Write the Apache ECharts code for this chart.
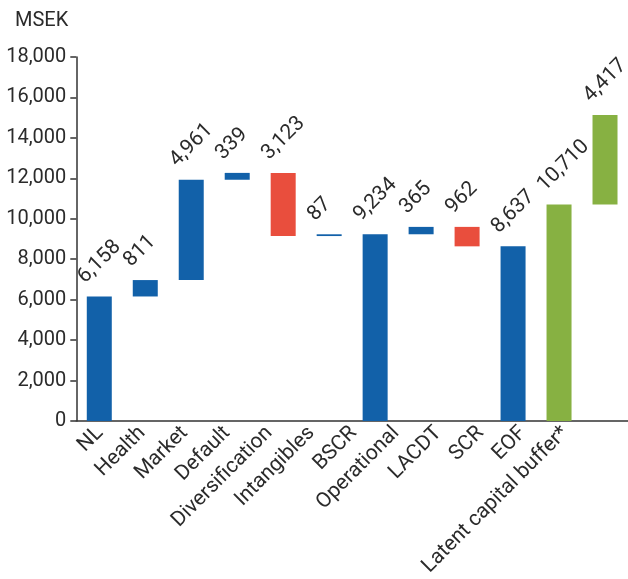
<!DOCTYPE html>
<html>
<head>
<meta charset="utf-8">
<title>SCR waterfall</title>
<script src="https://cdn.jsdelivr.net/npm/echarts@6/dist/echarts.min.js"></script>
<style>
  html, body { margin: 0; padding: 0; background: #fff; }
  #chart { width: 628px; height: 579px; }
</style>
</head>
<body>
<div id="chart"></div>
<script>
// categories and amounts (MSEK)
const categories = ['NL', 'Health', 'Market', 'Default', 'Diversification', 'Intangibles',
  'BSCR', 'Operational', 'LACDT', 'SCR', 'EOF', 'Latent capital buffer*'];
const amounts = [6158, 811, 4961, 339, -3123, 87, 9234, 365, -962, 8637, 10710, 4417];
// total = stands on zero, step = adds to / subtracts from the running level
const kinds = ['total', 'step', 'step', 'step', 'step', 'step', 'total', 'step', 'step', 'total', 'total', 'step'];
const capitalItems = ['EOF', 'Latent capital buffer*'];
const yTicks = { min: 0, max: 18000, interval: 2000 };

const BLUE = '#1261a9';
const RED = '#e94e3d';
const GREEN = '#87b142';
const TEXT = '#2b2b2b';
const FONT = 'Roboto';

// build the invisible base + visible part of each waterfall bar
const base = [];
const visible = [];
let level = 0;
amounts.forEach((v, i) => {
  let color = v < 0 ? RED : BLUE;
  if (capitalItems.includes(categories[i])) color = GREEN;
  if (kinds[i] === 'total') {
    base.push(0);
    level = v;
  } else if (v >= 0) {
    base.push(level);
    level += v;
  } else {
    level += v;
    base.push(level);
  }
  visible.push({ value: Math.abs(v), itemStyle: { color: color } });
});

const fmt = v => Math.abs(v).toLocaleString('en-US');

const chart = echarts.init(document.getElementById('chart'));

const option = {
  animation: false,
  title: {
    text: 'MSEK',
    left: 10,
    top: 6,
    textStyle: { fontFamily: FONT, fontSize: 20, fontWeight: 'normal', color: TEXT }
  },
  grid: [
    { left: 76.3, right: -4.6, top: 57, bottom: 158 },
    // label row: the category names sit a bit tighter than the bars
    { left: 78.85, right: 41.55, top: 57, bottom: 158 }
  ],
  xAxis: [
    {
      type: 'category',
      gridIndex: 0,
      data: categories,
      axisLine: { lineStyle: { color: '#333', width: 1.5 } },
      axisTick: { show: false },
      axisLabel: { show: false }
    },
    {
      type: 'category',
      gridIndex: 1,
      data: categories,
      axisLine: { show: false },
      axisTick: { show: false },
      axisLabel: {
        interval: 0,
        rotate: 45,
        margin: 11,
        fontFamily: FONT,
        fontSize: 21,
        color: TEXT
      }
    }
  ],
  yAxis: [
    {
      type: 'value',
      gridIndex: 0,
      min: yTicks.min,
      max: yTicks.max,
      interval: yTicks.interval,
      axisLine: { show: true, lineStyle: { color: '#333', width: 1.5 } },
      axisTick: { show: true, length: 6, lineStyle: { color: '#333', width: 1.5 } },
      splitLine: { show: false },
      axisLabel: {
        margin: 10,
        fontFamily: FONT,
        fontSize: 20,
        color: TEXT,
        formatter: v => v.toLocaleString('en-US')
      }
    },
    {
      type: 'value',
      gridIndex: 1,
      min: yTicks.min,
      max: yTicks.max,
      show: false
    }
  ],
  series: [
    {
      name: 'base',
      type: 'bar',
      stack: 'wf',
      barWidth: 25,
      silent: true,
      itemStyle: { color: 'transparent' },
      data: base
    },
    {
      name: 'amount',
      type: 'bar',
      stack: 'wf',
      barWidth: 25,
      data: visible,
      label: {
        show: true,
        position: [2, -9],
        rotate: 45,
        align: 'left',
        verticalAlign: 'bottom',
        fontFamily: FONT,
        fontSize: 21,
        color: TEXT,
        formatter: p => fmt(amounts[p.dataIndex])
      }
    }
  ]
};

chart.setOption(option);
</script>
</body>
</html>
